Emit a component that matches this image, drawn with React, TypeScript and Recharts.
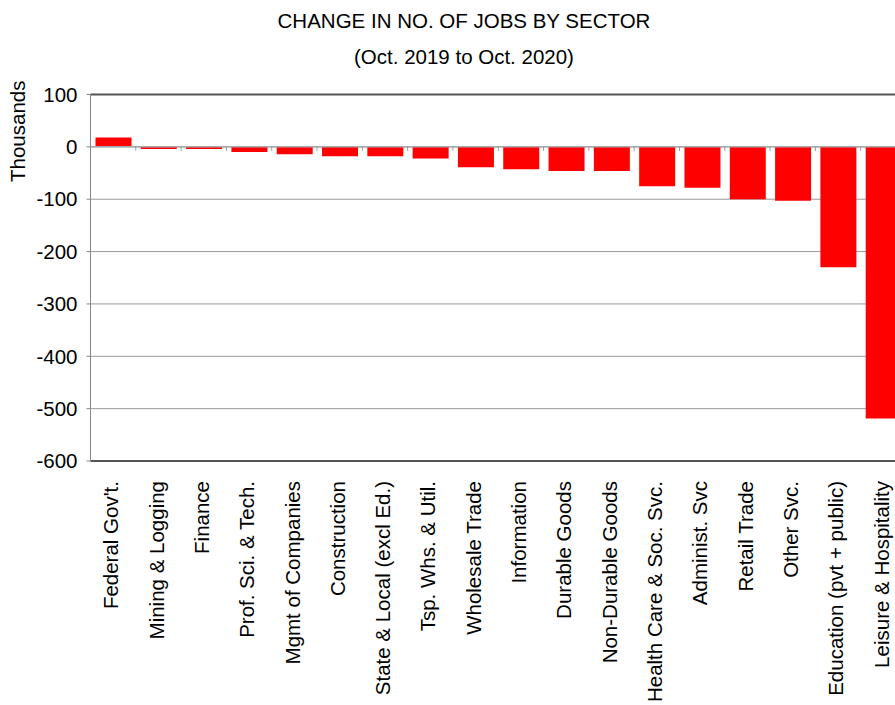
import React from "react";
import { BarChart, Bar, XAxis, YAxis, CartesianGrid, ReferenceLine } from "recharts";

const sectors = [
  "Federal Gov't.", "Mining & Logging", "Finance", "Prof. Sci. & Tech.", "Mgmt of Companies",
  "Construction", "State & Local (excl Ed.)", "Tsp. Whs. & Util.", "Wholesale Trade", "Information",
  "Durable Goods", "Non-Durable Goods", "Health Care & Soc. Svc.", "Administ. Svc", "Retail Trade",
  "Other Svc.", "Education (pvt + public)", "Leisure & Hospitality",
];
const changes = [18, -4, -4, -10, -14, -18, -18, -22, -39, -43, -46, -46, -75, -78, -100, -103, -230, -519];
const yTicks = [-600, -500, -400, -300, -200, -100, 0, 100];

const data = sectors.map((s, i) => ({ sector: s, change: changes[i] }));

const FONT = "'Liberation Sans', Arial, Helvetica, sans-serif";

const SectorTick = ({ x, y, payload }: any) => {
  const ty = y + 20;
  return (
    <text x={x - 2} y={ty} transform={`rotate(-90, ${x - 2}, ${ty})`} textAnchor="end" dy="0.35em"
      fontSize={20.5} fontFamily={FONT} fill="#000">
      {payload.value}
    </text>
  );
};

// zero line with small marks at category boundaries
const ZeroLine = (p: any) => {
  const { x1, y1, x2 } = p;
  const band = (x2 - x1) / sectors.length;
  return (
    <g>
      <line x1={x1} y1={y1} x2={x2} y2={y1} stroke="#aaa" strokeWidth={1.5} />
      {sectors.slice(1).map((_, i) => (
        <line key={i} x1={x1 + band * (i + 1)} x2={x1 + band * (i + 1)} y1={y1} y2={y1 + 4} stroke="#999" />
      ))}
    </g>
  );
};

export default function App() {
  return (
    <div style={{ position: "fixed", left: 0, top: 0, width: 895, height: 705, overflow: "hidden", background: "#fff", fontFamily: FONT }}>
      <div style={{ position: "absolute", left: 264, top: 11, width: 400, textAlign: "center", fontSize: 20.5, lineHeight: "20.5px", color: "#000" }}>
        CHANGE IN NO. OF JOBS BY SECTOR
      </div>
      <div style={{ position: "absolute", left: 264, top: 46.5, width: 400, textAlign: "center", fontSize: 20.5, lineHeight: "20.5px", color: "#000" }}>
        (Oct. 2019 to Oct. 2020)
      </div>
      <div style={{ position: "absolute", left: -42.1, top: 120.75, width: 120, height: 20.5, textAlign: "center", fontSize: 20.5, lineHeight: "20.5px", transform: "rotate(-90deg)", color: "#000" }}>
        Thousands
      </div>
      <BarChart width={915} height={705} data={data} margin={{ top: 94.5, right: 9, bottom: 14, left: 0 }}>
        <CartesianGrid vertical={false} stroke="#999" />
        <XAxis dataKey="sector" interval={0} height={230} tickSize={0} tickMargin={0} tickLine={false}
          axisLine={{ stroke: "#555", strokeWidth: 2 }} tick={<SectorTick />} />
        <YAxis domain={[-600, 100]} ticks={yTicks} width={90.5} tickSize={4} tickMargin={9}
          axisLine={{ stroke: "#888" }} tickLine={{ stroke: "#888" }}
          tick={{ fontSize: 20.5, fill: "#000", fontFamily: FONT }} />
        <ReferenceLine y={100} stroke="#555" strokeWidth={2} />
        <Bar dataKey="change" fill="#ff0000" barSize={36} isAnimationActive={false} />
        <ReferenceLine y={0} shape={ZeroLine} />
      </BarChart>
    </div>
  );
}
